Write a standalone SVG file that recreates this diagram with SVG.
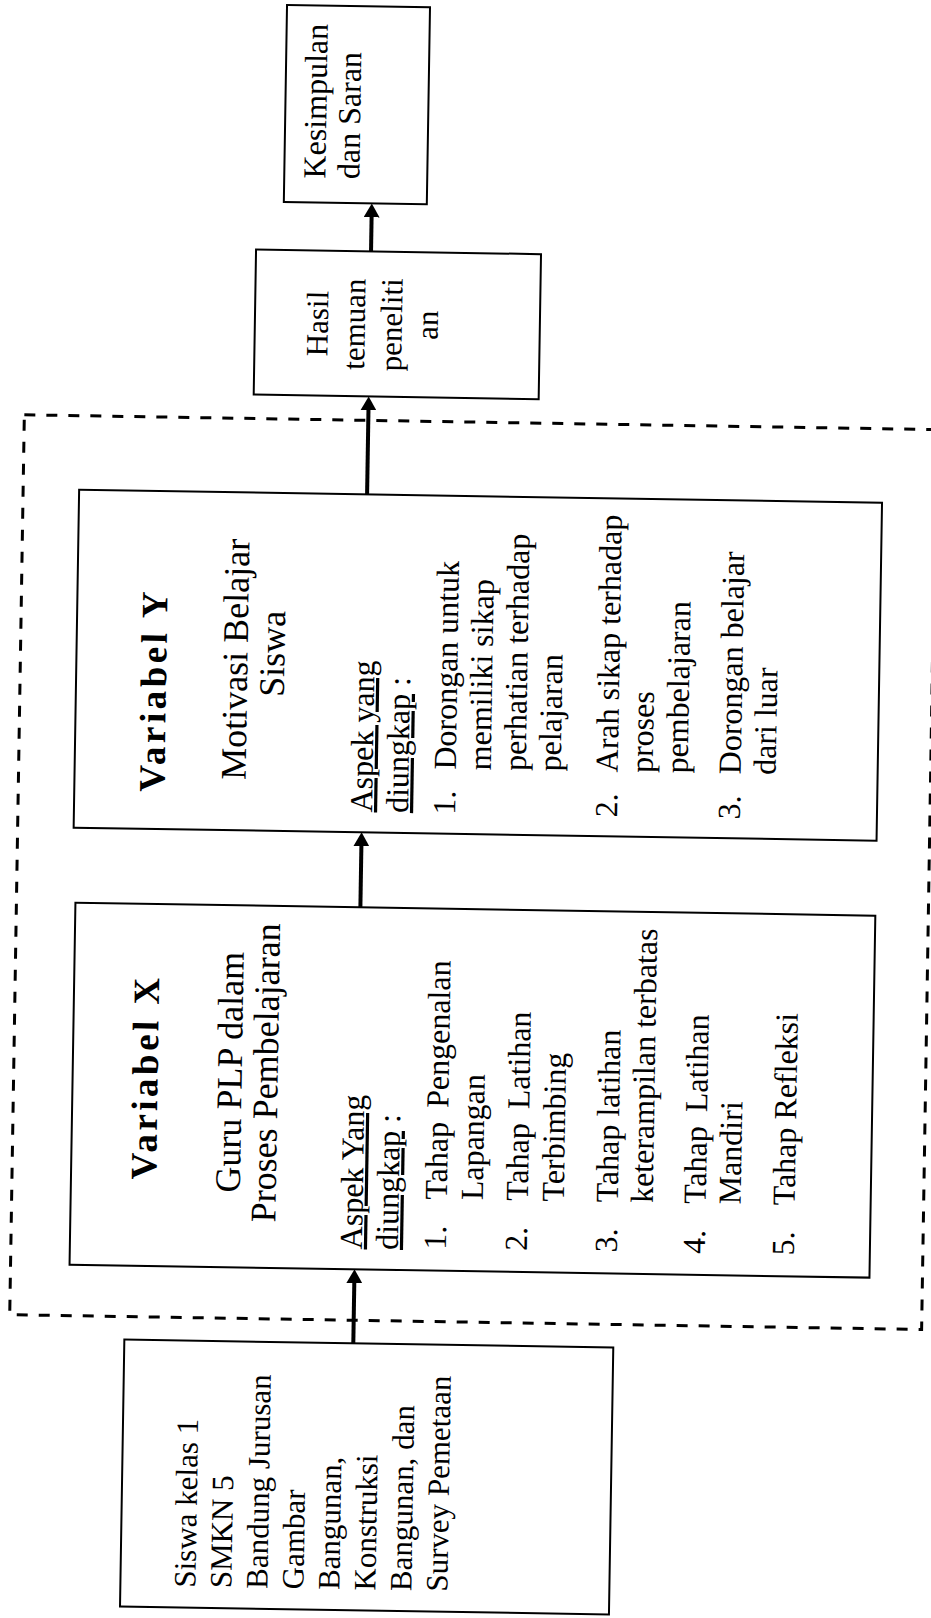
<svg xmlns="http://www.w3.org/2000/svg" width="931" height="1618" viewBox="0 0 931 1618">
<style>
text { font-family: "Liberation Serif", "Times New Roman", serif; font-size: 31px; fill: #000; }
.b { font-size: 32px; }
.k { font-size: 32px; }
.mid { text-anchor: middle; }
.title { font-size: 36px; text-anchor: middle; }
.head { font-weight: bold; font-size: 37px; letter-spacing: 3.5px; text-anchor: middle; }
.box { fill: #fff; stroke: #000; stroke-width: 2; }
.frame { fill: none; stroke: #000; stroke-width: 3; stroke-dasharray: 11 11; }
.conn { stroke: #000; stroke-width: 4; fill: none; marker-end: url(#arr); }
.u { text-decoration: underline; }
.ws { word-spacing: 6px; }
</style>
<defs>
<marker id="arr" markerUnits="userSpaceOnUse" viewBox="0 0 14 16" markerWidth="14" markerHeight="16" refX="4" refY="8" orient="auto">
<path d="M0,0 L14,8 L0,16 Z" fill="#000"/>
</marker>
</defs>
<rect width="931" height="1618" fill="#fff"/>
<g transform="rotate(0.93 465 809)">
<g id="frame"><rect class="frame" x="18" y="422" width="912" height="900"/></g>

<g id="kesimpulan">
<rect class="box" x="274" y="8" width="143" height="197"/>
<text class="k" transform="translate(315 181) rotate(-90)">Kesimpulan</text>
<text class="k" transform="translate(349 181) rotate(-90)">dan Saran</text>
</g>

<g id="hasil">
<rect class="box" x="247" y="253" width="285" height="145"/>
<text class="mid" transform="translate(320 326) rotate(-90)">Hasil</text>
<text class="mid" transform="translate(357 326) rotate(-90)">temuan</text>
<text class="mid" transform="translate(394 326) rotate(-90)">peneliti</text>
<text class="mid" transform="translate(430 326) rotate(-90)">an</text>
</g>

<g id="var-y">
<rect class="box" x="74" y="496" width="803" height="338"/>
<text class="head" transform="translate(164 695) rotate(-90)">Variabel Y</text>
<text class="title" transform="translate(245 663) rotate(-90)">Motivasi Belajar</text>
<text class="title" transform="translate(282 657) rotate(-90)">Siswa</text>
<text class="b" transform="translate(372 814) rotate(-90)"><tspan class="u">Aspek yang</tspan></text>
<text class="b" transform="translate(408 814) rotate(-90)"><tspan class="u">diungkap</tspan> :</text>
<text class="b" transform="translate(455 815) rotate(-90)">1.</text>
<text class="b" transform="translate(455 770) rotate(-90)">Dorongan untuk</text>
<text class="b" transform="translate(490 770) rotate(-90)">memiliki sikap</text>
<text class="b" transform="translate(525 770) rotate(-90)">perhatian terhadap</text>
<text class="b" transform="translate(560 770) rotate(-90)">pelajaran</text>
<text class="b" transform="translate(617 815) rotate(-90)">2.</text>
<text class="b" transform="translate(617 770) rotate(-90)">Arah sikap terhadap</text>
<text class="b" transform="translate(652 770) rotate(-90)">proses</text>
<text class="b" transform="translate(687 770) rotate(-90)">pembelajaran</text>
<text class="b" transform="translate(740 815) rotate(-90)">3.</text>
<text class="b" transform="translate(740 770) rotate(-90)">Dorongan belajar</text>
<text class="b" transform="translate(775 770) rotate(-90)">dari luar</text>
</g>

<g id="var-x">
<rect class="box" x="77" y="909" width="800" height="362"/>
<text class="head" transform="translate(162 1082) rotate(-90)">Variabel X</text>
<text class="title" transform="translate(246 1076) rotate(-90)">Guru PLP dalam</text>
<text class="title" transform="translate(282 1076) rotate(-90)">Proses Pembelajaran</text>
<text class="b" transform="translate(369 1251) rotate(-90)"><tspan class="u">Aspek Yang</tspan></text>
<text class="b" transform="translate(405 1251) rotate(-90)"><tspan class="u">diungkap</tspan> :</text>
<text class="b" transform="translate(453 1250) rotate(-90)">1.</text>
<text class="b ws" transform="translate(453 1200) rotate(-90)">Tahap Pengenalan</text>
<text class="b" transform="translate(489 1200) rotate(-90)">Lapangan</text>
<text class="b" transform="translate(534 1250) rotate(-90)">2.</text>
<text class="b ws" transform="translate(534 1200) rotate(-90)">Tahap Latihan</text>
<text class="b" transform="translate(570 1200) rotate(-90)">Terbimbing</text>
<text class="b" transform="translate(624 1250) rotate(-90)">3.</text>
<text class="b" transform="translate(624 1200) rotate(-90)">Tahap latihan</text>
<text class="b" transform="translate(659 1200) rotate(-90)">keterampilan terbatas</text>
<text class="b" transform="translate(712 1250) rotate(-90)">4.</text>
<text class="b ws" transform="translate(712 1200) rotate(-90)">Tahap Latihan</text>
<text class="b" transform="translate(747 1200) rotate(-90)">Mandiri</text>
<text class="b" transform="translate(801 1250) rotate(-90)">5.</text>
<text class="b" transform="translate(801 1200) rotate(-90)">Tahap Refleksi</text>
</g>

<g id="siswa">
<rect class="box" x="133" y="1345" width="489" height="267"/>
<text transform="translate(208 1592) rotate(-90)">Siswa kelas 1</text>
<text transform="translate(244 1592) rotate(-90)">SMKN 5</text>
<text transform="translate(280 1592) rotate(-90)">Bandung Jurusan</text>
<text transform="translate(316 1592) rotate(-90)">Gambar</text>
<text transform="translate(352 1592) rotate(-90)">Bangunan,</text>
<text transform="translate(388 1592) rotate(-90)">Konstruksi</text>
<text transform="translate(424 1592) rotate(-90)">Bangunan, dan</text>
<text transform="translate(460 1592) rotate(-90)">Survey Pemetaan</text>
</g>

<g id="connectors">
<path class="conn" d="M362 1345 L362 1281"/>
<path class="conn" d="M362 909 L362 844"/>
<path class="conn" d="M362 496 L362 408"/>
<path class="conn" d="M362 253 L362 215"/>
</g>
</g>
</svg>
